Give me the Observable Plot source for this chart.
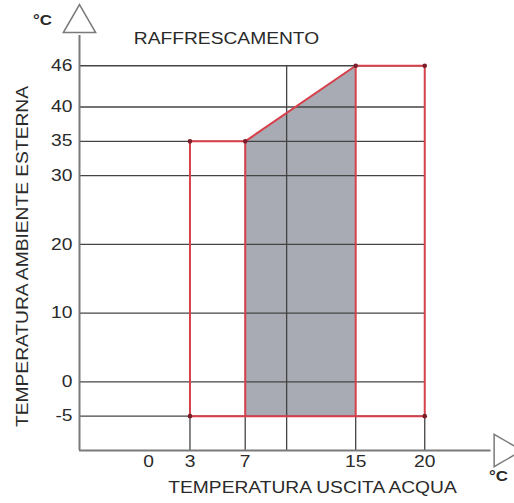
<!DOCTYPE html>
<html><head><meta charset="utf-8">
<script src="https://cdn.jsdelivr.net/npm/d3@7"></script>
<script src="https://cdn.jsdelivr.net/npm/@observablehq/plot@0.6"></script>
<style>body{margin:0;background:#fff}</style>
</head><body><div id="chart"></div>
<script>
const title = "RAFFRESCAMENTO";
const xLabel = "TEMPERATURA USCITA ACQUA";
const yLabel = "TEMPERATURA AMBIENTE ESTERNA";
const unit = "°C";
const xTicks = [0, 3, 7, 15, 20];
const yTicks = [-5, 0, 10, 20, 30, 35, 40, 46];
const extraVLine = [10];
const envX = [3, 3, 7, 15, 20, 20, 3];
const envY = [-5, 35, 35, 46, 46, -5, -5];
const areaX = [7, 15];
const areaTop = [35, 46];
const areaBottom = -5;
const vertexX = [3, 7, 15, 20, 3, 20];
const vertexY = [35, 35, 46, 46, -5, -5];

const xMin = -5, yMin = -10, xGridMax = 20;
const env = envX.map((x, i) => ({x, y: envY[i]}));
const area = areaX.map((x, i) => ({x, y2: areaTop[i]}));
const verts = vertexX.map((x, i) => ({x, y: vertexY[i]}));
const red = "#d8404c", grid = "#444", axisC = "#7a7a7a", txt = "#2a2a2a";
const fs = 16;

const plot = Plot.plot({
  width: 514, height: 503,
  marginLeft: 79, marginRight: 0, marginTop: 0, marginBottom: 53,
  x: {domain: [-5, 26.5], axis: null},
  y: {domain: [-10, 55.5], axis: null},
  style: {fontFamily: "Liberation Sans, Arial, sans-serif", background: "#fff"},
  marks: [
    Plot.areaY(area, {x: "x", y1: areaBottom, y2: "y2", fill: "#a8abb3"}),
    Plot.ruleY(yTicks, {x1: xMin, x2: xGridMax, stroke: grid, strokeWidth: 1.3}),
    Plot.ruleX(xTicks.filter(d => d > 0), {y1: yMin, y2: -5, stroke: grid, strokeWidth: 1.3}),
    Plot.ruleX(extraVLine, {y1: yMin, y2: 46, stroke: grid, strokeWidth: 1.3}),
    Plot.line(env, {x: "x", y: "y", stroke: red, strokeWidth: 2}),
    Plot.ruleX(areaX, {y1: areaBottom, y2: (d, i) => areaTop[i], stroke: red, strokeWidth: 2}),
    Plot.dot(verts, {x: "x", y: "y", r: 2.3, fill: "#7a1f2a"}),
    Plot.ruleX([xMin], {y1: yMin, y2: 50.4, stroke: axisC, strokeWidth: 2}),
    Plot.ruleY([yMin], {x1: xMin, x2: 24.8, stroke: axisC, strokeWidth: 2}),
    Plot.dot([{x: xMin, y: 52.2}], {x: "x", y: "y", symbol: "triangle", r: 12, fill: "#fff", stroke: axisC, strokeWidth: 1.5}),
    Plot.dot([{x: 25.7, y: yMin}], {x: "x", y: "y", symbol: "triangle", r: 12, rotate: 90, fill: "#fff", stroke: axisC, strokeWidth: 1.5}),
    Plot.text(yTicks, {x: xMin, y: d => d, dx: -7, text: d => String(d), textAnchor: "end", fontSize: fs, fill: txt}),
    Plot.text(xTicks, {x: d => d, y: yMin, dy: 11, text: d => String(d), fontSize: fs, fill: txt}),
    Plot.text([title], {frameAnchor: "top-left", dx: 147, dy: 38, textAnchor: "middle", lineAnchor: "middle", fontSize: fs, fill: txt}),
    Plot.text([xLabel], {frameAnchor: "bottom-left", dx: 233, dy: 37, textAnchor: "middle", lineAnchor: "middle", fontSize: fs, fill: txt}),
    Plot.text([yLabel], {frameAnchor: "top-left", dx: -57, dy: 256, textAnchor: "middle", lineAnchor: "middle", rotate: -90, fontSize: fs, fill: txt}),
    Plot.text([unit], {frameAnchor: "top-left", dx: -37, dy: 20, textAnchor: "middle", lineAnchor: "middle", fontSize: 14, fontWeight: "bold", fill: txt}),
    Plot.text([unit], {frameAnchor: "top-left", dx: 419, dy: 476, textAnchor: "middle", lineAnchor: "middle", fontSize: 14, fontWeight: "bold", fill: txt})
  ]
});
document.getElementById("chart").appendChild(plot);
// The reference lettering is horizontally widened (~1.2x); stretch glyphs to match.
plot.querySelectorAll("text").forEach(t => {
  const len = t.getComputedTextLength();
  if (len > 0) {
    t.setAttribute("textLength", (len * 1.2).toFixed(1));
    t.setAttribute("lengthAdjust", "spacingAndGlyphs");
  }
});
</script>
</body></html>
